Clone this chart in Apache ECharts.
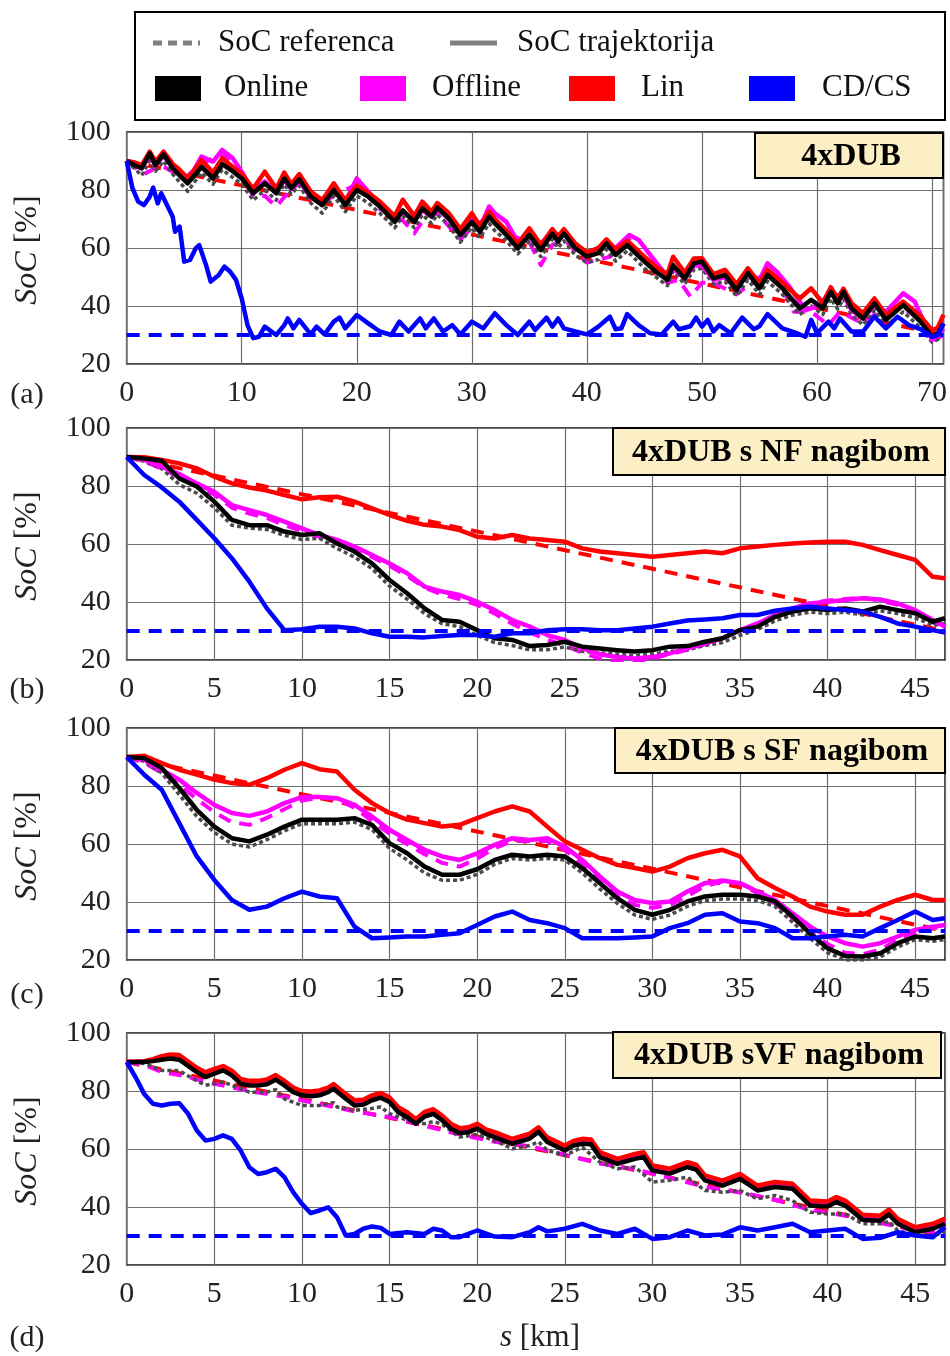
<!DOCTYPE html>
<html><head><meta charset="utf-8">
<script src="https://cdn.jsdelivr.net/npm/echarts@6/dist/echarts.min.js"></script>
<style>html,body{margin:0;padding:0;background:#fff}#c{width:950px;height:1356px}</style>
</head><body><div id="c"></div>
<script>
// ---------- DATA ----------
const panelTitles = ['4xDUB', '4xDUB s NF nagibom', '4xDUB s SF nagibom', '4xDUB sVF nagibom'];
const panelTags = ['(a)', '(b)', '(c)', '(d)'];
const xMaxA = 71, xMaxBCD = 46.7;
const cdcsLevel = 30;

// Panel (a): [km, SoC]
const aOnline = [[0,90],[0.7,88.5],[1.3,87.5],[2,92.6],[2.5,88.6],[3.2,92.3],[4,87.5],[4.6,85],[5.3,82.3],[6,85.5],[6.5,88],[7.5,84],[8.3,88.9],[9.2,86.5],[10,84],[11,78.9],[12,82.3],[13,78.9],[13.7,84],[14.3,80.6],[15,83.7],[16,77.7],[17,74.8],[18,80],[19,74.8],[20,80],[21,77.7],[22,74.3],[23.3,69],[24,73],[25,69],[25.7,73.7],[26.5,70.8],[27,73.9],[28,70.2],[29,64.5],[30,69],[30.7,65.6],[31.5,70.8],[32,68.5],[33,64.5],[34,59.9],[35,64.5],[36,59.3],[37,65],[37.5,62.2],[38,65],[39,59.9],[40,57],[41,58.2],[41.7,61.6],[42.5,57.6],[43.5,61],[45,55.3],[46,51.8],[47,49],[47.5,54.1],[48.5,49.5],[49.3,54.7],[50,55.3],[51,49.5],[52,50.7],[53,45.5],[54,51.3],[55,46.1],[55.7,50.7],[57,46.1],[58.5,39.2],[59.5,42.1],[60.5,39.2],[61.2,44.9],[61.8,40.9],[62.3,44.9],[63,39.2],[64,35.7],[65,40.9],[66,35.2],[67.5,40.3],[69,34.6],[70,29.4],[70.5,30.6],[71,34]];
const aOnlineRef = [[0,90],[1.3,85],[2,90],[2.5,86.5],[3.2,90],[4,85.5],[5.3,79.5],[6.5,86],[7.5,82],[8.3,87],[10,82],[11,76.5],[12,80],[13,76.5],[13.7,82],[14.3,78.5],[15,81.5],[16,75.5],[17,72],[18,78],[19,72.5],[20,78],[21,75.5],[22,72],[23.3,67],[24,71],[25,67],[25.7,71.5],[26.5,68.5],[27,71.5],[28,68],[29,62],[30,67],[30.7,63.5],[31.5,68.5],[32,66],[33,62.5],[34,58],[35,62.5],[36,57],[37,63],[37.5,60],[38,62.5],[39,57.5],[40,55],[41,56],[41.7,59.5],[42.5,55.5],[43.5,59],[45,53],[46,50],[47,47],[47.5,52],[48.5,47.5],[49.3,52.5],[50,53],[51,47.5],[52,48.5],[53,43.5],[54,49],[55,44],[55.7,48.5],[57,44],[58.5,37],[59.5,40],[60.5,37],[61.2,42.5],[61.8,39],[62.3,42.5],[63,37],[64,33.5],[65,38.5],[66,33],[67.5,38],[69,32.5],[70,27.5],[70.5,28.5],[71,32]];
const aOffline = [[0,90],[0.7,89],[1.3,87.5],[2,92],[2.5,88.5],[3.2,91.8],[4,88],[4.6,86],[5.3,83.4],[6,88],[6.5,91.5],[7.5,89.8],[8.3,93.8],[9.2,91],[10,86.3],[11,79.4],[12,83],[13,79],[13.7,83.5],[14.3,80.5],[15,83],[16,77.5],[17,75],[18,80.5],[19,76],[20,84],[21,79.4],[22,75],[23.3,69.5],[24,72.5],[25,69.5],[25.7,73],[26.5,71],[27,73.5],[28,70],[29,65],[30,71],[30.7,67],[31.5,74.3],[32,72],[33,69],[34,62],[35,65],[36,61.5],[37,65.5],[37.5,63],[38,65.5],[39,61],[40,58],[41,60],[41.7,61.5],[42.5,60],[43.7,64.5],[44.5,62.8],[45.5,57.6],[47,50],[47.5,53],[48.5,49.5],[49.3,54],[50,54],[51,49],[52,50],[53,46],[54,51],[55,49],[55.7,54.7],[56.5,51.8],[57.5,47.2],[59,38.6],[60,39.8],[61,43.8],[62.3,43.8],[63,38.6],[64,35.7],[65,40.3],[66,38],[67.5,44.4],[68.5,41.5],[70,28.3],[71,32.3]];
const aOfflineRef = [[0,90],[1.5,85.5],[3,88.5],[5,84],[6.5,89],[8.3,92.6],[10,85.5],[11,77.7],[12,78],[13,74.3],[14,78.9],[15,82.5],[17,75.5],[18,78],[20,82],[22,73.5],[24,69.5],[25,65],[26,71],[27,72],[29,63],[30,67],[31.5,71],[33,65],[35,62],[36,54.1],[37,61],[38,63],[40,55],[42,57],[43.7,62.8],[45,56],[47,48],[48,49],[49,43.2],[50,48],[51,48],[53,44],[54,47],[55.7,51.8],[57,46],[58,38],[59.5,38],[61,33.4],[62,38],[64,34],[65,37],[67.5,39],[69,36],[70,27.7],[71,30]];
const aLin = [[0,90],[0.7,89.5],[1.3,88.5],[2,93.2],[2.5,89.8],[3.2,93.2],[4,89],[4.6,87],[5.3,84],[6,87.5],[6.5,90.3],[7.5,86],[8.3,91],[9.2,88],[10,85.5],[11,80.5],[12,86.3],[13,80.5],[13.7,86],[14.3,82],[15,85.5],[16,79.5],[17,76.5],[18,82.3],[19,76.5],[20,81.5],[21,79],[22,76],[23.3,71],[24,76.6],[25,71],[25.7,76],[26.5,72.5],[27,75.5],[28,72],[29,66.5],[30,72],[30.7,67.5],[31.5,72.5],[32,70],[33,66],[34,61.5],[35,66.8],[36,61],[37,66.5],[37.5,64],[38,66.5],[39,61.5],[40,58.5],[41,60],[41.7,63],[42.5,59.5],[43.5,62.5],[45,57],[46,53.5],[47,51],[47.5,57],[48.5,51.5],[49.3,56.4],[50,56.5],[51,51],[52,52.5],[53,47.5],[54,53],[55,48],[55.7,52.5],[57,48],[58.5,42.6],[59.5,46.1],[60.5,41],[61.2,46.5],[61.8,42.5],[62.3,46],[63,41],[64,37.5],[65,42.6],[66,37],[67.5,41.5],[69,36.5],[70,31.7],[70.5,32.5],[71,37]];
const aLinRef = [[0,90],[71,30]];
const aCDCS = [[0,90],[0.5,80.6],[1,76],[1.5,74.8],[2,77.7],[2.3,80.8],[2.7,75.4],[3,78.9],[3.5,74.8],[4,70.8],[4.2,65.6],[4.6,67.4],[5,55.3],[5.5,55.9],[6,59.9],[6.3,61],[6.9,54.1],[7.3,48.4],[8,50.7],[8.5,53.6],[9,51.8],[9.5,49],[10,42.6],[10.5,33.4],[11,28.9],[11.5,29.4],[12,32.9],[13,30],[13.7,33.4],[14,35.7],[14.5,32.3],[15,35.2],[16,30.2],[16.5,32.9],[17.2,30.2],[18,34.6],[18.5,36],[19,32.3],[20,36.9],[21,34],[22,31.2],[23,30],[23.7,34.6],[24.5,31.2],[25.5,35.7],[26,32.3],[26.7,35.7],[27.5,31.2],[28.3,33.4],[29,30.2],[30,34.6],[31,32.3],[32,37.5],[33,33.4],[34,30],[35,34.6],[35.5,31.7],[36.5,36],[37,32.9],[37.5,35.7],[38,32.3],[39,31.2],[40,30.2],[41,32.9],[42,36.3],[42.5,32],[43,32.3],[43.5,37.2],[44.5,33.4],[45.5,30.6],[46.5,30.2],[47.5,34.6],[48,32],[49,33],[49.5,36],[50,32.9],[50.5,35.2],[51,31.2],[51.5,33.4],[52.5,30.6],[53.5,36],[54.5,32],[55,33],[55.7,37.2],[57,32.3],[58,31],[59,29.4],[59.5,35.2],[60,30.6],[61,34.6],[61.5,32.3],[62,35.7],[63,31.2],[64,31.2],[65,36.3],[66,32.3],[67,36.3],[68,33.4],[69,32],[70,29.4],[70.5,30],[71,34]];

// Panels (b),(c): values at these km positions
const kmBC = [0,1,2,3,4,5,6,7,8,9,10,11,12,13,14,15,16,17,18,19,20,21,22,23,24,25,26,27,28,29,30,31,32,33,34,35,36,37,38,39,40,41,42,43,44,45,46,46.7];

const bOnline    = [90,89.5,88.7,82.6,79.8,74.6,68.3,66.5,66.5,64.3,63.1,63.7,60.2,57.4,53.3,47.6,43,37.8,33.8,33.2,30.3,27.5,26.9,24.8,25.2,26.3,24.6,24,23.4,22.9,23.4,24.6,24.8,26.3,27.5,30.3,31.5,34.9,36.7,37.8,37.2,37.8,36.7,38.4,37.2,36.1,33.2,34.4];
const bOnlineRef = [90,88.5,86,80.5,77.5,72.5,66.5,65.5,65,63,61.5,62,58.5,55.5,51.5,45.5,41,36,32.5,31.5,28.5,26,25,23.5,23.5,24.5,23,22.5,22,21.5,22,23,23.5,25,26,28.5,30.5,33.5,35.5,36.5,36,36.5,35.5,37,36,34.5,32,32.5];
const bOffline   = [90,89,86.7,84.1,80.9,78,73.4,71.7,70,67.7,65.4,63.1,61.4,59.1,56.2,53.3,49.9,45.3,43.6,42.4,40.1,37.2,33.8,31.5,28.6,26.9,24,22,21,20.5,21,22.3,24,25.7,27.5,30.3,32.6,35.5,37.8,39.5,40.1,40.7,41.3,40.9,39.5,37.2,33.8,31.5];
const bOfflineRef= [90,88.5,86,83,80,77,72.5,70.5,69,66.5,64.5,62.5,60.5,58.5,55.5,52.5,49,45,42.5,41,39,36,32.5,29.5,27,25,22.5,20.5,19.5,19.5,20.5,22,23.5,25.5,27.5,30,32.5,35.5,38,39.5,40.5,41,41.5,40.5,39,36.5,33,30.5];
const bLin       = [90,89.9,89,87.8,86.1,83.2,80.9,79.5,78.4,76.9,75.4,76.1,76.3,74.6,72.3,70,68,66.6,66,64.8,62.5,61.9,63.1,61.9,61.4,60.8,58.5,57.4,56.8,56.2,55.6,56.2,56.8,57.4,56.8,58.5,59.1,59.7,60.2,60.5,60.8,60.8,59.7,57.9,56.2,54.5,48.7,48.2];
const bLinRef    = [[0,90],[46.7,30]];
const bCDCS      = [90,83.8,79.5,74.6,68.3,62,55.1,47,37.8,30.3,30.6,31.5,31.5,30.9,29.2,28,28,27.8,28.3,28.6,28.6,28,29.2,29.2,30.3,30.6,30.6,30.3,30.3,30.9,31.5,32.6,33.6,34,34.4,35.5,35.5,37,37.8,38.4,37.8,37.2,36.7,34.9,32.6,31.5,30.3,29.5];

const cOnline    = [90,89.6,86.2,79.3,71.8,66,62,60.9,63.2,66,68.4,68.4,68.4,68.9,66.6,60.3,56.8,52.2,49.4,49.4,51.3,54.5,56.3,55.7,56.3,55.7,51.7,46.5,41.3,37.3,35.6,37.3,40.2,41.9,42.5,42.5,41.9,40.2,35,29.2,24,21.4,21.2,22.3,25.8,28.1,27.5,28.1];
const cOnlineRef = [90,88.5,84.5,77,69.5,64,60,59,61.5,64.5,67,67,67,67.5,65,58.5,54.5,50,47.5,47.5,49.5,53,55,54.5,55,54.5,50,44.5,39.5,35.5,34,35.5,38.5,40.5,41,41,40.5,38.5,33,27.5,22.5,20,20,21,24.5,27,26.5,27];
const cOffline   = [90,89,85.6,82.2,77.6,73.5,70.7,69.7,71.2,74.1,76.2,76.2,75.8,73.5,69.5,64.9,61.4,58,55.7,54.5,56.8,59.7,62,61.4,62,59.1,54.5,48.8,43.6,40.7,39.6,40.2,43.6,46.5,47.4,46.5,43.6,40.7,36.1,31.5,28.1,25.8,24.6,25.8,28.1,30.4,31.5,32.1];
const cOfflineRef= [90,88,84.5,80.5,75.5,71,67.5,66.6,69,72,75,76,75.5,72.5,68,63.5,60,56.5,53.5,52.2,55,58.5,61,61,61,58,53,47,42,39,38,39,42,45.5,47,46.5,43,39.5,34.5,29.5,25.5,22.5,22,23.5,27,29.5,31,31.5];
const cLin       = [90,90.4,87.9,85.6,83.9,82.2,81,80.4,82.7,85.6,87.9,85.8,85,78.7,74.1,70.7,68.4,67.2,66,66.6,68.9,71.2,73,71.2,66,60.9,58,55.1,52.8,51.7,50.5,52.2,55.1,56.8,58,55.7,48.2,44.8,41.9,38.4,36.7,35.6,35.6,38.4,40.7,42.5,40.7,40.7];
const cLinRef    = [[0,90],[46.7,30]];
const cCDCS      = [90,83.9,78.7,67.2,55.7,47.6,40.7,37.3,38.4,41.3,43.6,41.9,41.3,31.5,27.5,27.8,28.1,28.1,28.7,29.2,32.1,35,36.7,33.8,32.7,31,27.5,27.5,27.5,27.8,28.1,31,32.7,35.6,36.1,33.3,32.7,31,27.5,27.5,28.1,28.7,28.1,31,33.8,36.7,33.8,34.4];

// Panel (d): values at these km positions
const kmD = [0,1,1.5,2,2.5,3,4,4.5,5,5.5,6,6.5,7,7.5,8,8.5,9,9.5,10,10.5,11,11.5,11.8,12.5,13,13.5,14,14.5,15,15.5,16,16.5,17,17.5,18,18.5,19,19.5,20,20.5,21,22,23,23.5,24,25,25.5,26,26.5,27,28,29,29.5,30,31,32,32.5,33,34,35,36,37,38,39,40,40.5,41,42,43,43.5,44,45,46,46.7];
const dOnline  = [90,90,90.3,90.8,91.2,90.8,86.5,84.8,86,87.1,85.4,82.5,81.9,81.9,82.3,83.9,81.9,79.6,78.5,78.2,78.5,79.6,80.8,77.3,75,75.3,76.8,77.7,76.2,72.7,71,68.7,71.2,72.1,69.9,67,65.5,65.8,67,65.2,64.1,61.8,63.6,65.9,62.4,59.5,61.2,61.8,61.6,57.2,54.9,56.6,57.2,52.6,51.5,53.8,52.9,49.2,47.4,49.7,45.7,46.9,46.3,40.5,40.2,41.7,40.5,35.6,35.3,37.4,34.2,31.3,32.5,34.2];
const dLin     = [90,90.3,91,92,92.6,92.4,88,86.5,87.6,88.6,87,84.2,83.5,83.5,84,85.5,83.5,81.2,80,79.8,80.2,81.2,82.4,79,76.8,77,78.5,79.3,77.8,74.4,72.7,70.3,72.8,73.7,71.5,68.7,67.2,67.5,68.7,66.8,65.8,63.5,65.3,67.5,64,61.2,62.8,63.5,63.3,58.9,56.6,58.3,58.9,54.3,53.2,55.5,54.6,50.9,49.1,51.4,47.4,48.6,48,42.2,41.9,43.4,42.2,37.3,37,39.1,35.9,33,34.2,36];
const dOffline = [90,90.1,90.6,91.3,91.8,91.5,87.2,85.6,86.8,87.8,86.2,83.3,82.7,82.7,83.1,84.7,82.7,80.4,79.3,79,79.3,80.4,81.6,78.1,75.8,76.1,77.6,78.5,77,73.5,71.8,69.5,72,72.9,70.7,67.8,66.3,66.6,67.8,66,64.9,62.6,64.4,66.7,63.2,60.3,62,62.6,62.4,58,55.7,57.4,58,53.4,52.3,54.6,53.7,50,48.2,50.5,46.5,47.7,47.1,41.3,41,42.5,41.3,36.4,36.1,38.2,35,32.1,33.3,35];
const dOnlineRef = [[0,90],[1,89.5],[2,87.1],[3,87],[4,83.5],[4.5,82],[5.5,83.1],[6,82],[7,79.6],[8,79.6],[8.5,80.5],[9,77.3],[10,75],[11,75],[11.8,76],[12,74.5],[13,73.3],[14,74],[14.5,74.5],[15,72.2],[16,69.9],[17,68.7],[17.5,69.5],[18,68.5],[19,64.1],[20,65],[21,62.9],[22,60.1],[23,61.2],[23.5,62.5],[24,59.5],[25,57.8],[26,60.6],[27,55.5],[28,53.2],[29,53.8],[30,48.6],[31,49.2],[32,50.3],[33,45.7],[34,45.1],[35,45.7],[36,42.8],[37,44],[38,42.2],[39,38.2],[40,37.6],[41,37.6],[42,34.2],[43,34.2],[43.5,35],[44,31.9],[45,30.2],[46,30.2],[46.7,31.3]];
const dOfflineRef = [[0,90],[1,89],[2,86.5],[3,85.5],[5,82.5],[7,80],[9,78],[11,75.5],[13,73],[15,71],[17,68],[19,65],[21,62.5],[23,61],[25,58],[27,55],[29,53],[31,50],[33,47],[35,45],[37,42.5],[39,39],[41,37],[43,34.5],[45,32],[46.7,31]];
const dLinRef = [[0,90],[46.7,30]];
const dCDCS = [[0,90],[0.5,84.8],[1,79],[1.5,75.6],[2,75],[2.5,75.6],[3,75.8],[3.5,72.2],[4,66.4],[4.5,62.9],[5,63.5],[5.5,64.7],[6,63.5],[6.5,59.5],[7,53.7],[7.5,51.4],[8,52],[8.5,53.2],[9,50.3],[9.5,45.1],[10,41.1],[10.5,37.9],[11,38.8],[11.5,39.9],[12,36.5],[12.5,30.2],[13,30.7],[13.5,32.5],[14,33.3],[14.5,32.8],[15,30.7],[16,31.3],[17,30.7],[17.5,32.5],[18,31.9],[18.5,29.6],[19,29.6],[20,31.9],[21,29.8],[22,29.6],[23,31.3],[23.5,33],[24,31.6],[25,32.5],[26,34.2],[27,31.9],[28,30.7],[29,32.5],[30,29],[31,29.6],[32,31.9],[33,30.2],[34,30.5],[35,33],[36,31.9],[37,33],[38,34.2],[39,31.3],[40,31.9],[41,32.5],[42,29],[43,29.4],[44,31.3],[45,30.2],[46,29.6],[46.7,33]];

// ---------- CHART ----------
const FONT = '"Liberation Serif", "DejaVu Serif", serif';
const zip = (xs, ys) => xs.map((x, i) => [x, ys[i]]);
const COL = {online:'#000000', offline:'#ff00ff', lin:'#ff0000', cdcs:'#0000ff', ref:'#4a4a4a'};

const gridTops = [132, 428, 728, 1033];
const gridH = 232;
const gridLeft = 126.7, gridW = 818.3;
const xMaxes = [xMaxA, xMaxBCD, xMaxBCD, xMaxBCD];
const xIntervals = [10, 5, 5, 5];

const panels = [
  {online:aOnline, onlineRef:aOnlineRef, offline:aOffline, offlineRef:aOfflineRef, lin:aLin, linRef:aLinRef, cdcs:aCDCS},
  {online:zip(kmBC,bOnline), onlineRef:zip(kmBC,bOnlineRef), offline:zip(kmBC,bOffline), offlineRef:zip(kmBC,bOfflineRef), lin:zip(kmBC,bLin), linRef:bLinRef, cdcs:zip(kmBC,bCDCS)},
  {online:zip(kmBC,cOnline), onlineRef:zip(kmBC,cOnlineRef), offline:zip(kmBC,cOffline), offlineRef:zip(kmBC,cOfflineRef), lin:zip(kmBC,cLin), linRef:cLinRef, cdcs:zip(kmBC,cCDCS)},
  {online:zip(kmD,dOnline), onlineRef:dOnlineRef, offline:zip(kmD,dOffline), offlineRef:dOfflineRef, lin:zip(kmD,dLin), linRef:dLinRef, cdcs:dCDCS}
];

function line(data, gi, color, width, dash) {
  return {
    type: 'line', xAxisIndex: gi, yAxisIndex: gi, data: data,
    showSymbol: false, symbol: 'none', silent: true, clip: true,
    lineStyle: {color: color, width: width, type: dash ? dash : 'solid', cap: 'butt', join: 'round'}
  };
}

const grid = [], xAxis = [], yAxis = [], series = [];
panels.forEach((p, gi) => {
  grid.push({left: gridLeft, top: gridTops[gi], width: gridW, height: gridH, show: true, borderColor: '#111', borderWidth: 1.5, backgroundColor: 'transparent', z: 0});
  xAxis.push({
    type: 'value', gridIndex: gi, min: 0, max: xMaxes[gi], interval: xIntervals[gi],
    axisLine: {show: false}, axisTick: {show: false},
    splitLine: {show: true, lineStyle: {color: '#6e6e6e', width: 1.2}},
    axisLabel: {show: true, showMaxLabel: false, color: '#222', fontFamily: FONT, fontSize: 30, margin: 14}
  });
  yAxis.push({
    type: 'value', gridIndex: gi, min: 20, max: 100, interval: 20,
    axisLine: {show: false}, axisTick: {show: false},
    splitLine: {show: true, lineStyle: {color: '#6e6e6e', width: 1.2}},
    axisLabel: {show: true, color: '#222', fontFamily: FONT, fontSize: 30, margin: 16}
  });
  const xm = xMaxes[gi];
  series.push(line(p.linRef, gi, COL.lin, 4, [13, 9]));
  series.push(line(p.offlineRef, gi, COL.offline, 4, [13, 9]));
  series.push(line(p.onlineRef, gi, COL.ref, 3.5, [4, 3]));
  series.push(line(p.offline, gi, COL.offline, 4.5));
  series.push(line(p.lin, gi, COL.lin, 4.5));
  series.push(line(p.online, gi, COL.online, 4.5));
  series.push(line([[0, cdcsLevel], [xm, cdcsLevel]], gi, COL.cdcs, 4, [13, 9]));
  series.push(line(p.cdcs, gi, COL.cdcs, 4.5));
});

// ---------- GRAPHIC (legend, labels, title boxes) ----------
const graphic = [];
graphic.push({type: 'rect', shape: {x: 135, y: 12, width: 810, height: 108}, style: {fill: '#fff', stroke: '#000', lineWidth: 2}, z: 100});
graphic.push({type: 'line', shape: {x1: 153, y1: 43, x2: 200, y2: 43}, style: {stroke: '#808080', lineWidth: 5, lineDash: [9, 6]}, z: 101});
graphic.push({type: 'text', x: 218, y: 43, style: {text: 'SoC referenca', font: '31px ' + FONT, fill: '#111', textAlign: 'left', textVerticalAlign: 'middle'}, z: 101});
graphic.push({type: 'line', shape: {x1: 450, y1: 43, x2: 497, y2: 43}, style: {stroke: '#808080', lineWidth: 5}, z: 101});
graphic.push({type: 'text', x: 517, y: 43, style: {text: 'SoC trajektorija', font: '31px ' + FONT, fill: '#111', textAlign: 'left', textVerticalAlign: 'middle'}, z: 101});
const legItems = [['Online', COL.online, 155, 224], ['Offline', COL.offline, 360, 432], ['Lin', COL.lin, 569, 641], ['CD/CS', COL.cdcs, 749, 822]];
legItems.forEach(it => {
  graphic.push({type: 'rect', shape: {x: it[2], y: 76, width: 46, height: 25}, style: {fill: it[1]}, z: 101});
  graphic.push({type: 'text', x: it[3], y: 88, style: {text: it[0], font: '31px ' + FONT, fill: '#111', textAlign: 'left', textVerticalAlign: 'middle'}, z: 101});
});
const boxes = [
  {x: 755, y: 133, w: 188, h: 45},
  {x: 613, y: 428, w: 332, h: 47},
  {x: 615, y: 728, w: 330, h: 45},
  {x: 613, y: 1032, w: 328, h: 46}
];
boxes.forEach((b, i) => {
  graphic.push({type: 'rect', shape: {x: b.x, y: b.y, width: b.w, height: b.h}, style: {fill: '#fcefc6', stroke: '#000', lineWidth: 2}, z: 100});
  graphic.push({type: 'text', x: b.x + b.w / 2 + 2, y: b.y + b.h / 2 + 1, style: {text: panelTitles[i], font: 'bold 32px ' + FONT, fill: '#000', textAlign: 'center', textVerticalAlign: 'middle'}, z: 101});
});
const tagYs = [395, 690, 995, 1338];
gridTops.forEach((t, i) => {
  graphic.push({type: 'text', x: 28, y: t + gridH / 2 + 2, rotation: Math.PI / 2,
    style: {text: '{i|SoC} [%]', font: '32px ' + FONT, fill: '#222', textAlign: 'center', textVerticalAlign: 'middle',
      rich: {i: {fontStyle: 'italic', fontFamily: FONT, fontSize: 32, fill: '#222'}}}, z: 101});
  graphic.push({type: 'text', x: 27, y: tagYs[i], style: {text: panelTags[i], font: '30px ' + FONT, fill: '#222', textAlign: 'center', textVerticalAlign: 'middle'}, z: 101});
});
graphic.push({type: 'text', x: 540, y: 1338, style: {text: '{i|s} [km]', font: '31px ' + FONT, fill: '#222', textAlign: 'center', textVerticalAlign: 'middle',
  rich: {i: {fontStyle: 'italic', fontFamily: FONT, fontSize: 31, fill: '#222'}}}, z: 101});

const chart = echarts.init(document.getElementById('c'), null, {renderer: 'canvas'});
chart.setOption({animation: false, backgroundColor: '#fff', grid, xAxis, yAxis, series, graphic});
</script>
</body></html>
